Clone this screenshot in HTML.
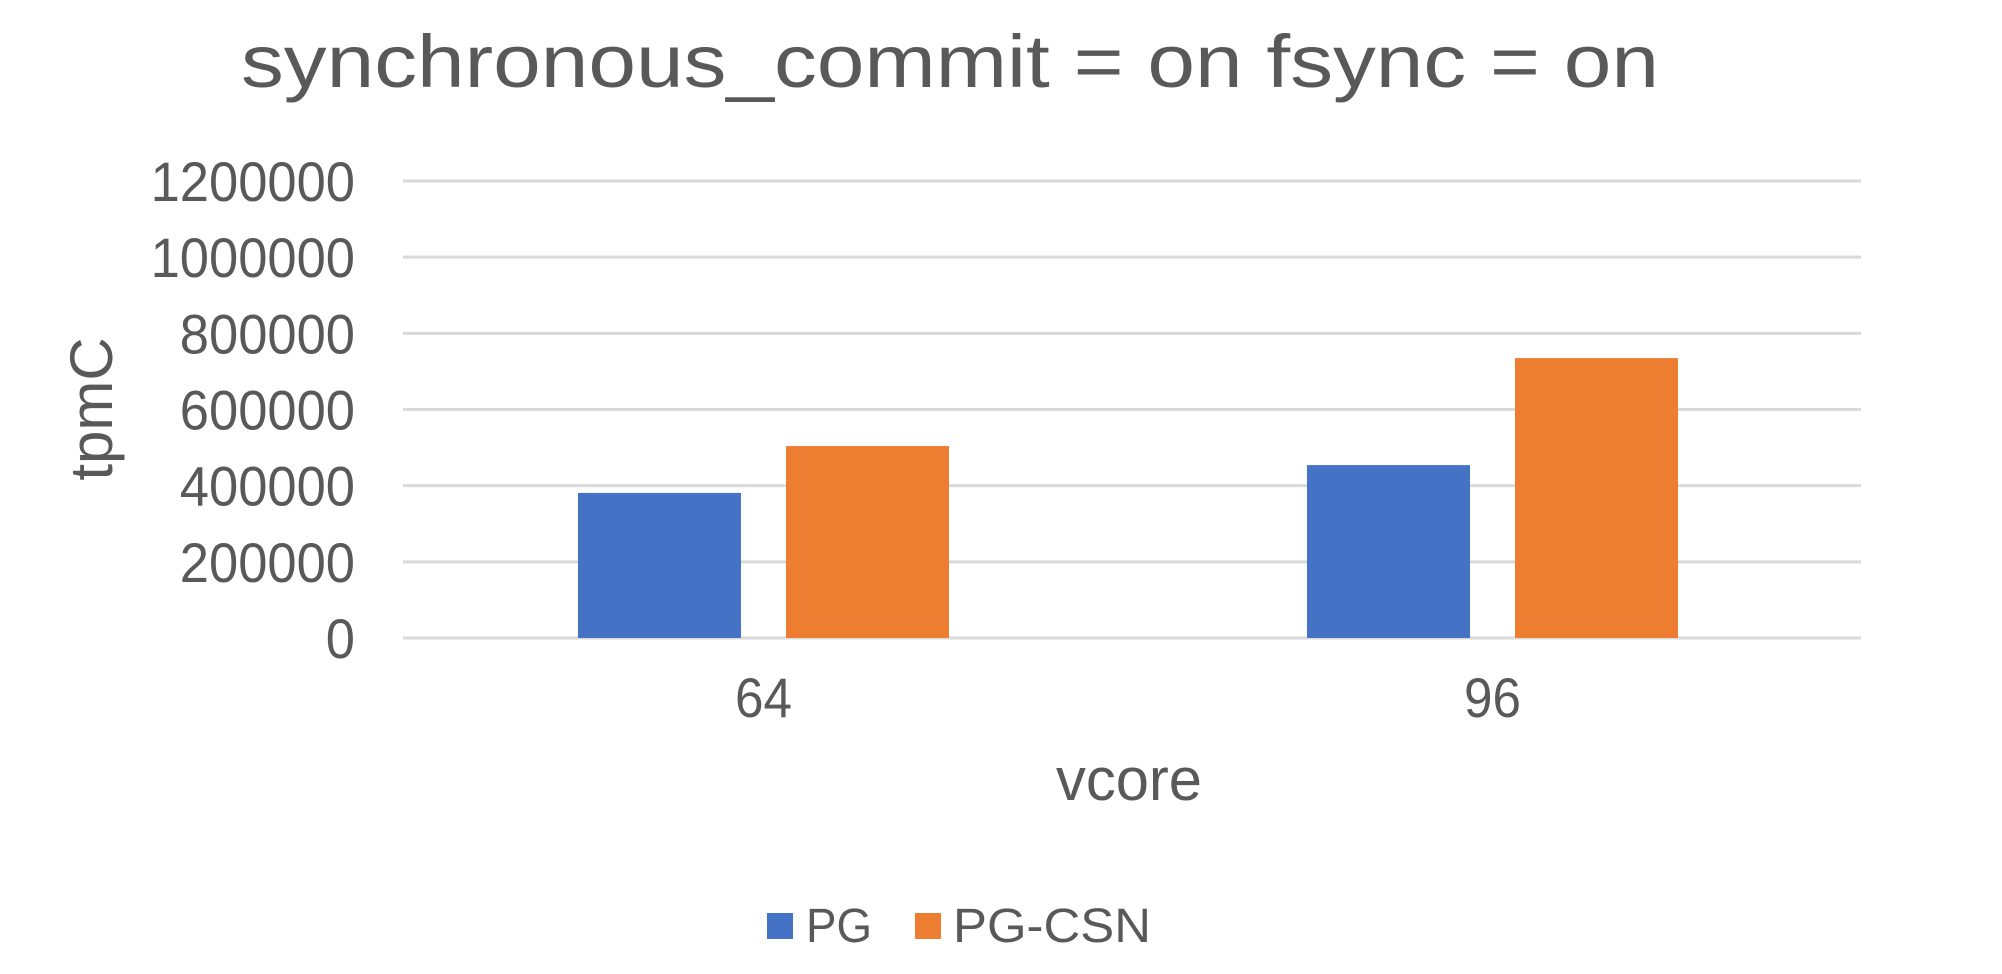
<!DOCTYPE html>
<html><head><meta charset="utf-8"><style>
html,body{margin:0;padding:0;background:#fff;}
svg{display:block;font-family:"Liberation Sans",sans-serif;}
</style></head><body>
<svg id="chart" width="2002" height="974" viewBox="0 0 2002 974">
<text x="950" y="87" font-size="74" fill="#595959" text-anchor="middle" textLength="1418" lengthAdjust="spacingAndGlyphs">synchronous_commit = on fsync = on</text>
<g id="grid"></g><g id="yticks"></g><g id="bars"></g><g id="xticks"></g>
<text x="1129" y="800" font-size="60" fill="#595959" text-anchor="middle" textLength="146" lengthAdjust="spacingAndGlyphs">vcore</text>
<text transform="translate(112,409) rotate(-90)" font-size="60" fill="#595959" text-anchor="middle">tpmC</text>
<g>
<rect x="767" y="913" width="26" height="26" fill="#4472C4"></rect>
<text x="806" y="942" font-size="48" fill="#595959" textLength="66" lengthAdjust="spacingAndGlyphs">PG</text>
<rect x="915" y="913" width="26" height="26" fill="#ED7D31"></rect>
<text x="953" y="942" font-size="48" fill="#595959" textLength="198" lengthAdjust="spacingAndGlyphs">PG-CSN</text>
</g>
</svg>
<script>
const categories = ["64", "96"];
const pgValues = [381000, 454000];
const csnValues = [504000, 735000];
const yTicks = [0, 200000, 400000, 600000, 800000, 1000000, 1200000];

const NS = "http://www.w3.org/2000/svg";
const x0 = 403, x1 = 1861, yZero = 638, yTop = 181, yMax = 1200000;
function yScale(v){ return yZero - (v / yMax) * (yZero - yTop); }
const bandW = (x1 - x0) / categories.length;
function bandCenter(i){ return x0 + bandW * (i + 0.5) - 4; }
function mk(tag, attrs){ const e = document.createElementNS(NS, tag); for (const k in attrs) e.setAttribute(k, attrs[k]); return e; }

const grid = document.getElementById('grid'), yt = document.getElementById('yticks');
yTicks.forEach(v => {
  const l = mk('line', {x1: x0, x2: x1, y1: yScale(v), y2: yScale(v), stroke: '#d9d9d9', 'stroke-width': 3});
  
  
  grid.appendChild(l);
  const t = mk('text', {x: 355, y: yScale(v) + 20, 'font-size': 56, fill: '#595959', 'text-anchor': 'end'});
  const s = String(v);
  t.setAttribute('textLength', s.length * 29.2);
  t.setAttribute('lengthAdjust', 'spacingAndGlyphs');
  t.textContent = s;
  
  
  yt.appendChild(t);
});

const bars = document.getElementById('bars'), xt = document.getElementById('xticks');
const barW = 163, gap = 45;
categories.forEach((c, i) => {
  const cx = bandCenter(i);
  const series = [[pgValues[i], '#4472C4', 'bar-pg-' + c], [csnValues[i], '#ED7D31', 'bar-pg-csn-' + c]];
  series.forEach((s, j) => {
    const x = j === 0 ? cx - gap / 2 - barW : cx + gap / 2;
    const r = mk('rect', {x: x, y: yScale(s[0]), width: barW, height: yZero - yScale(s[0]), fill: s[1]});
    
    
    bars.appendChild(r);
  });
  const t = mk('text', {x: cx, y: 717, 'font-size': 56, fill: '#595959', 'text-anchor': 'middle'});
  t.setAttribute('textLength', 57);
  t.setAttribute('lengthAdjust', 'spacingAndGlyphs');
  t.textContent = c;
  
  
  xt.appendChild(t);
});
</script>
</body></html>
